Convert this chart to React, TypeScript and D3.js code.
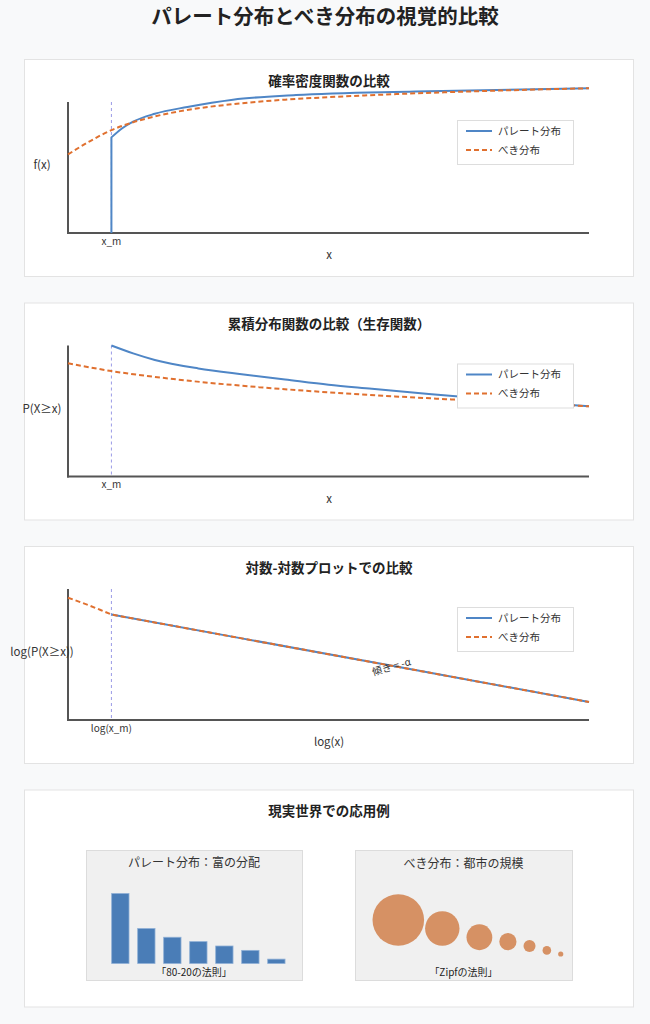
import React from "react";
import * as d3 from "d3";

// ---------- data ----------
const mainTitle = "パレート分布とべき分布の視覚的比較";
const seriesNames = ["パレート分布", "べき分布"];

// Panel 1: probability density
const pdfParetoX = [1, 1, 1.25, 1.5, 2, 2.75, 3.8, 5.25, 8, 12];
const pdfParetoY = [0, 0.73, 0.8, 0.85, 0.91, 0.962, 1.018, 1.053, 1.08, 1.105];
const pdfPowerX = [0, 0.5, 1, 1.5, 2, 2.5, 3, 4, 5, 6, 8, 10, 12];
const pdfPowerY = [0.6, 0.7, 0.785, 0.845, 0.89, 0.925, 0.952, 0.99, 1.018, 1.037, 1.066, 1.088, 1.105];

// Panel 2: survival function
const ccdfParetoX = [1, 1.5, 2, 3, 4, 5, 6, 7, 8, 9, 10, 11, 12];
const ccdfParetoY = [1.0, 0.94, 0.89, 0.825, 0.78, 0.74, 0.7, 0.67, 0.64, 0.61, 0.585, 0.56, 0.536];
const ccdfPowerX = [0, 1, 2.5, 4.4, 6.2, 8.9, 12];
const ccdfPowerY = [0.864, 0.805, 0.741, 0.682, 0.638, 0.587, 0.536];

// Panel 3: log-log
const logParetoX = [1, 4, 8, 12];
const logParetoY = [0.805, 0.623, 0.381, 0.138];
const logPowerX = [0, 0.25, 0.5, 0.75, 1, 4, 8, 12];
const logPowerY = [0.933, 0.904, 0.873, 0.84, 0.805, 0.623, 0.381, 0.138];

const xm = 1;

// Panel 4
const wealthShares = [80, 40, 30, 25, 20, 15, 5];
const citySizes = [30, 20, 15, 10, 7, 5, 3];

// ---------- style ----------
const FONT = '"Noto Sans CJK JP", "Noto Sans", sans-serif';
const BLUE = "#4f86c6";
const ORANGE = "#e0702f";
const AXIS = "#555";
const PANEL_TOPS = [59, 302.5, 546, 789.5];

const xScale = d3.scaleLinear().domain([0, 12]).range([68, 589]);

function buildPath(
  xs: number[],
  ys: number[],
  y: d3.ScaleLinear<number, number>,
  curve: d3.CurveFactory
) {
  const pts: [number, number][] = xs.map((v, i) => [v, ys[i]]);
  let prefix = "";
  let rest = pts;
  if (pts.length > 1 && pts[0][0] === pts[1][0]) {
    prefix = `M${xScale(pts[0][0])},${y(pts[0][1])}`;
    rest = pts.slice(1);
  }
  const gen = d3
    .line<[number, number]>()
    .x((d) => xScale(d[0]))
    .y((d) => y(d[1]))
    .curve(curve);
  const p = gen(rest) || "";
  return prefix ? prefix + "L" + p.slice(1) : p;
}

type PanelProps = {
  top: number;
  title: string;
  yLabel: string;
  xLabel: string;
  xmLabel: string;
  a: [number[], number[]];
  b: [number[], number[]];
  annotation?: boolean;
  curve?: d3.CurveFactory;
};

function ChartPanel({ top, title, yLabel, xLabel, xmLabel, a, b, annotation, curve }: PanelProps) {
  const y = d3.scaleLinear().domain([0, 1]).range([top + 174, top + 43]);
  const x0 = xScale(0);
  const x1 = xScale(12);
  const c = curve || d3.curveMonotoneX;
  return (
    <g>
      <rect x={24.5} y={top + 0.5} width={609} height={217} fill="#fff" stroke="#e3e3e3" />
      <text x={329} y={top + 22} dy="0.35em" textAnchor="middle" fontSize={13.5} fontWeight="bold" fill="#222">
        {title}
      </text>
      <line x1={xScale(xm)} x2={xScale(xm)} y1={y(1)} y2={y(0)} stroke="#9a9ae6" strokeWidth={1} strokeDasharray="3,3" />
      <line x1={x0} x2={x0} y1={y(1)} y2={y(0) + 1} stroke={AXIS} strokeWidth={2} />
      <line x1={x0 - 1} x2={x1} y1={y(0)} y2={y(0)} stroke={AXIS} strokeWidth={2} />
      <text x={xScale(xm)} y={top + 182} dy="0.35em" textAnchor="middle" fontSize={10} fill="#333">
        {xmLabel}
      </text>
      <text x={329} y={top + 196} dy="0.35em" textAnchor="middle" fontSize={11.5} fill="#333">
        {xLabel}
      </text>
      <text x={42} y={top + 106} dy="0.35em" textAnchor="middle" fontSize={11.5} fill="#333">
        {yLabel}
      </text>
      <path d={buildPath(a[0], a[1], y, c)} fill="none" stroke={BLUE} strokeWidth={2} />
      <path d={buildPath(b[0], b[1], y, c)} fill="none" stroke={ORANGE} strokeWidth={2} strokeDasharray="5,3" />
      {annotation && (
        <text
          transform={`translate(391.5,${top + 121}) rotate(-16)`}
          textAnchor="middle"
          dy="0.35em"
          fontSize={10}
          fill="#333"
        >
          傾き = -α
        </text>
      )}
      <g>
        <rect x={457.5} y={top + 61.5} width={116} height={44} fill="#fff" stroke="#ddd" />
        <line x1={466} x2={492} y1={top + 72} y2={top + 72} stroke={BLUE} strokeWidth={2} />
        <text x={498} y={top + 72} dy="0.35em" fontSize={10.5} fill="#333">
          {seriesNames[0]}
        </text>
        <line x1={466} x2={492} y1={top + 91} y2={top + 91} stroke={ORANGE} strokeWidth={2} strokeDasharray="5,3" />
        <text x={498} y={top + 91} dy="0.35em" fontSize={10.5} fill="#333">
          {seriesNames[1]}
        </text>
      </g>
    </g>
  );
}

function ExamplesPanel({ top }: { top: number }) {
  const band = d3
    .scaleBand<number>()
    .domain(wealthShares.map((_, i) => i))
    .range([103, 293.7])
    .paddingInner(1 / 3)
    .paddingOuter(1 / 3);
  const yBar = d3.scaleLinear().domain([0, 80]).range([top + 174, top + 104]);
  const rScale = d3.scaleLinear().domain([0, 30]).range([0, 25.8]);
  // pack circles left to right
  const cx: number[] = [];
  citySizes.forEach((v, i) => {
    if (i === 0) cx.push(398.3);
    else cx.push(cx[i - 1] + rScale(citySizes[i - 1]) + rScale(v) + (i === 1 ? 1 : 7));
  });
  const cy = wealthShares.map((v) => Math.min(Math.max(yBar(v), top + 130.5), top + 164.5));
  return (
    <g>
      <rect x={24.5} y={top + 0.5} width={609} height={217} fill="#fff" stroke="#e3e3e3" />
      <text x={329} y={top + 22} dy="0.35em" textAnchor="middle" fontSize={13.5} fontWeight="bold" fill="#222">
        現実世界での応用例
      </text>
      <rect x={86.5} y={top + 61} width={216} height={130} fill="#f0f0f0" stroke="#dcdcdc" />
      <text x={194} y={top + 73} dy="0.35em" textAnchor="middle" fontSize={12} fill="#333">
        パレート分布：富の分配
      </text>
      {wealthShares.map((v, i) => (
        <rect
          key={i}
          x={band(i)}
          y={yBar(v)}
          width={band.bandwidth()}
          height={yBar(0) - yBar(v)}
          fill="#4a7db7"
          stroke="#8fb0d6"
          strokeWidth={0.8}
        />
      ))}
      <text x={194} y={top + 182.5} dy="0.35em" textAnchor="middle" fontSize={10} fill="#222">
        「80-20の法則」
      </text>
      <rect x={355.5} y={top + 61} width={217} height={130} fill="#f0f0f0" stroke="#dcdcdc" />
      <text x={463.5} y={top + 74} dy="0.35em" textAnchor="middle" fontSize={12} fill="#333">
        べき分布：都市の規模
      </text>
      {citySizes.map((v, i) => (
        <circle key={i} cx={cx[i]} cy={cy[i]} r={rScale(v)} fill="#d69164" />
      ))}
      <text x={463.5} y={top + 182.5} dy="0.35em" textAnchor="middle" fontSize={10} fill="#222">
        「Zipfの法則」
      </text>
    </g>
  );
}

export default function App() {
  return (
    <div style={{ position: "absolute", left: 0, top: 0 }}>
      <svg width={650} height={1024} style={{ display: "block", fontFamily: FONT }}>
        <rect x={0} y={0} width={650} height={1024} fill="#f8f9fa" />
        <text x={325} y={17} dy="0.35em" textAnchor="middle" fontSize={20.5} fontWeight="bold" fill="#222">
          {mainTitle}
        </text>
        <ChartPanel
          top={PANEL_TOPS[0]}
          title="確率密度関数の比較"
          yLabel="f(x)"
          xLabel="x"
          xmLabel="x_m"
          a={[pdfParetoX, pdfParetoY]}
          b={[pdfPowerX, pdfPowerY]}
        />
        <ChartPanel
          top={PANEL_TOPS[1]}
          title="累積分布関数の比較（生存関数）"
          yLabel="P(X≥x)"
          xLabel="x"
          xmLabel="x_m"
          a={[ccdfParetoX, ccdfParetoY]}
          b={[ccdfPowerX, ccdfPowerY]}
        />
        <ChartPanel
          top={PANEL_TOPS[2]}
          title="対数-対数プロットでの比較"
          yLabel="log(P(X≥x))"
          xLabel="log(x)"
          xmLabel="log(x_m)"
          a={[logParetoX, logParetoY]}
          b={[logPowerX, logPowerY]}
          annotation
          curve={d3.curveLinear}
        />
        <ExamplesPanel top={PANEL_TOPS[3]} />
      </svg>
    </div>
  );
}
